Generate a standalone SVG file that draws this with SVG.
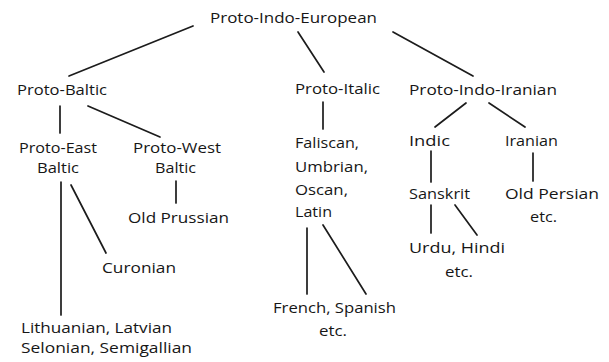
<svg xmlns="http://www.w3.org/2000/svg" width="609" height="362" viewBox="0 0 609 362">
<style>
text{font-family:"Open Sans","Liberation Sans",sans-serif;font-size:14px;fill:#161616;}
.c line{stroke:#1c1c1c;stroke-width:1.7;stroke-linecap:round;}
</style>
<rect width="609" height="362" fill="#ffffff"/>
<g class="c" id="connectors">
<line x1="193" y1="26" x2="69" y2="76"/>
<line x1="298" y1="32" x2="324" y2="72"/>
<line x1="393" y1="32" x2="473" y2="76"/>
<line x1="60" y1="106" x2="60" y2="133"/>
<line x1="88" y1="106" x2="160" y2="137"/>
<line x1="176" y1="181" x2="176" y2="203"/>
<line x1="61" y1="182" x2="61" y2="315"/>
<line x1="71" y1="185" x2="106" y2="253"/>
<line x1="323" y1="102" x2="323" y2="129"/>
<line x1="307" y1="228" x2="307" y2="294"/>
<line x1="323" y1="225" x2="366" y2="294"/>
<line x1="466" y1="103" x2="435" y2="127"/>
<line x1="489" y1="103" x2="525" y2="127"/>
<line x1="431" y1="151" x2="431" y2="182"/>
<line x1="533" y1="153" x2="533" y2="181"/>
<line x1="431" y1="205" x2="431" y2="233"/>
<line x1="455" y1="205" x2="477" y2="235"/>
</g>
<g id="pie"><text x="210" y="23" textLength="167" lengthAdjust="spacingAndGlyphs">Proto-Indo-European</text></g>
<g id="proto-baltic"><text x="17" y="95" textLength="90" lengthAdjust="spacingAndGlyphs">Proto-Baltic</text></g>
<g id="proto-italic"><text x="295" y="94" textLength="85" lengthAdjust="spacingAndGlyphs">Proto-Italic</text></g>
<g id="proto-indo-iranian"><text x="409" y="95" textLength="148" lengthAdjust="spacingAndGlyphs">Proto-Indo-Iranian</text></g>
<g id="proto-east-baltic">
<text x="19" y="153" textLength="78" lengthAdjust="spacingAndGlyphs">Proto-East</text>
<text x="37" y="173" textLength="42" lengthAdjust="spacingAndGlyphs">Baltic</text>
</g>
<g id="proto-west-baltic">
<text x="133" y="153" textLength="88" lengthAdjust="spacingAndGlyphs">Proto-West</text>
<text x="155" y="173" textLength="41" lengthAdjust="spacingAndGlyphs">Baltic</text>
</g>
<g id="old-prussian"><text x="128" y="223" textLength="101" lengthAdjust="spacingAndGlyphs">Old Prussian</text></g>
<g id="curonian"><text x="102" y="273" textLength="74" lengthAdjust="spacingAndGlyphs">Curonian</text></g>
<g id="lithuanian">
<text x="21" y="333" textLength="151" lengthAdjust="spacingAndGlyphs">Lithuanian, Latvian</text>
<text x="21" y="353" textLength="171" lengthAdjust="spacingAndGlyphs">Selonian, Semigallian</text>
</g>
<g id="italic-langs">
<text x="295" y="148" textLength="64" lengthAdjust="spacingAndGlyphs">Faliscan,</text>
<text x="295" y="172" textLength="73" lengthAdjust="spacingAndGlyphs">Umbrian,</text>
<text x="295" y="195" textLength="53" lengthAdjust="spacingAndGlyphs">Oscan,</text>
<text x="295" y="217" textLength="37" lengthAdjust="spacingAndGlyphs">Latin</text>
</g>
<g id="french-spanish">
<text x="273" y="313" textLength="123" lengthAdjust="spacingAndGlyphs">French, Spanish</text>
<text x="319" y="336" textLength="28" lengthAdjust="spacingAndGlyphs">etc.</text>
</g>
<g id="indic"><text x="409" y="146" textLength="41" lengthAdjust="spacingAndGlyphs">Indic</text></g>
<g id="iranian"><text x="505" y="146" textLength="53" lengthAdjust="spacingAndGlyphs">Iranian</text></g>
<g id="sanskrit"><text x="409" y="199" textLength="61" lengthAdjust="spacingAndGlyphs">Sanskrit</text></g>
<g id="old-persian">
<text x="505" y="199" textLength="94" lengthAdjust="spacingAndGlyphs">Old Persian</text>
<text x="530" y="222" textLength="27" lengthAdjust="spacingAndGlyphs">etc.</text>
</g>
<g id="urdu-hindi">
<text x="409" y="253" textLength="96" lengthAdjust="spacingAndGlyphs">Urdu, Hindi</text>
<text x="445" y="277" textLength="28" lengthAdjust="spacingAndGlyphs">etc.</text>
</g>
</svg>
